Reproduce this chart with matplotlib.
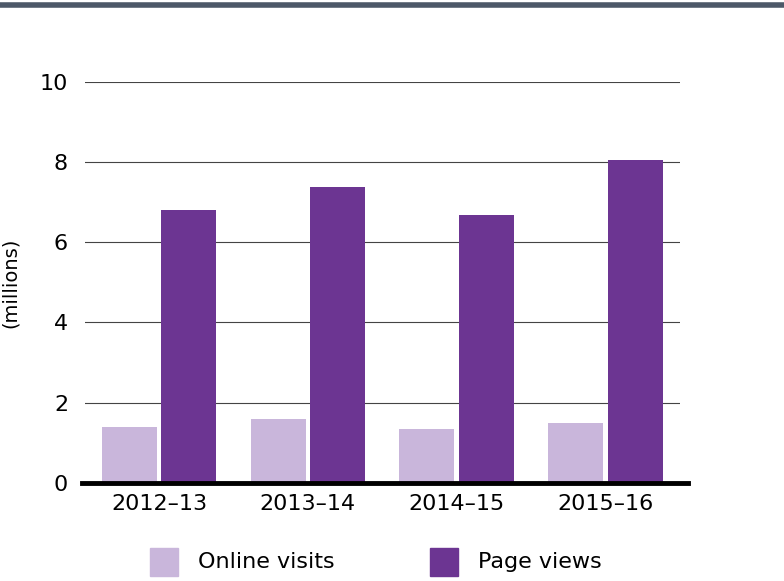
import matplotlib
matplotlib.use("Agg")
import matplotlib.pyplot as plt
import numpy as np
from matplotlib.patches import Rectangle
from matplotlib.lines import Line2D

categories = ["2012\u201313", "2013\u201314", "2014\u201315", "2015\u201316"]
online_visits = [1.4, 1.58, 1.33, 1.5]
page_views = [6.8, 7.38, 6.68, 8.05]
yticks = [0, 2, 4, 6, 8, 10]

light = "#c9b6db"
dark = "#6c3592"

fig = plt.figure(figsize=(7.84, 5.81), dpi=100)
ax = fig.add_axes([0.108, 0.169, 0.759, 0.690])
x = np.arange(len(categories))
w = 0.37
ax.bar(x - 0.2, online_visits, w, color=light, zorder=3)
ax.bar(x + 0.2, page_views, w, color=dark, zorder=3)
ax.set_xlim(-0.5, 3.5)
ax.set_ylim(0, 10)
ax.set_yticks(yticks)
ax.set_xticks(x)
ax.set_xticklabels(categories, fontsize=16)
ax.tick_params(axis="y", labelsize=16, length=0, pad=12)
ax.tick_params(axis="x", length=0, pad=8)
ax.grid(axis="y", color="#444444", linewidth=0.8, zorder=0)
for s in ax.spines.values():
    s.set_visible(False)
ax.set_ylabel("(millions)", fontsize=14, labelpad=14)
# thick baseline
fig.add_artist(Line2D([82/784, 688/784], [1-483/581]*2, color="black", linewidth=3.5))
# top bar
fig.add_artist(Line2D([0, 1], [1-5/581]*2, color="#4d5868", linewidth=4))
# legend
for (x0, label) in [(150, "Online visits"), (430, "Page views")]:
    col = light if label.startswith("Online") else dark
    fig.add_artist(Rectangle((x0/784, 1-576/581), 28/784, 28/581, color=col))
    fig.text((x0+48)/784, 1-562/581, label, fontsize=16, va="center")
fig.savefig("out.png", dpi=100)
